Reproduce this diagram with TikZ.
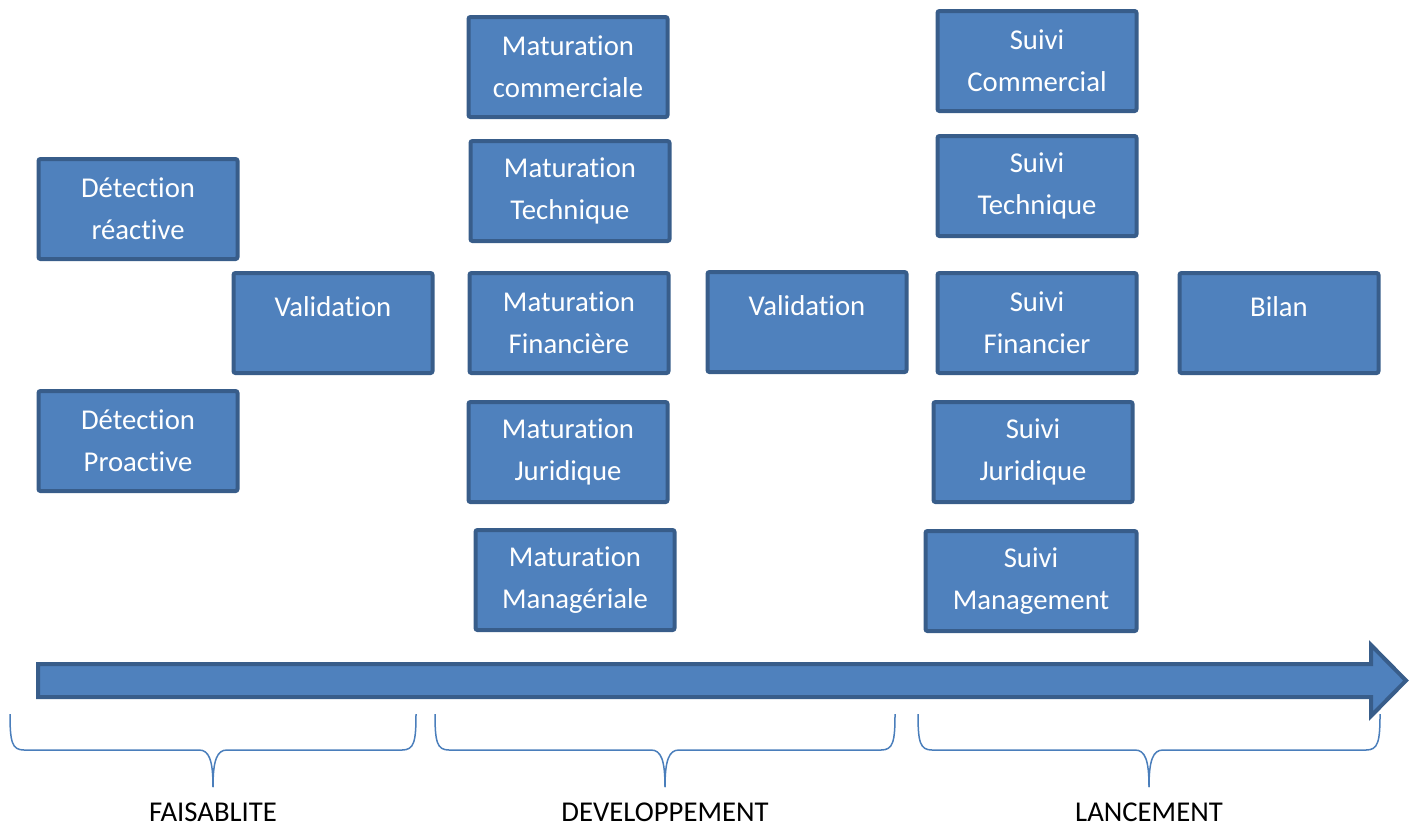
\documentclass[tikz,border=0pt]{standalone}
\usepackage{fontspec}
\setmainfont[Ligatures=NoCommon]{Carlito}
\usepackage{tikz}
\usetikzlibrary{positioning}
\definecolor{remplissage}{HTML}{4F81BD}
\definecolor{bordure}{HTML}{385D8A}
\definecolor{trait}{HTML}{4A7EBB}
\begin{document}
\begin{tikzpicture}[x=0.5pt,y=-0.5pt,
  etape/.style={draw=bordure,fill=remplissage,line width=2pt,rounded corners=1pt,
    minimum width=99.5pt,minimum height=50pt,align=center,text=white,
    font=\fontsize{14.35}{21}\selectfont},
  uneligne/.style={text depth=16pt},
  phase/.style={font=\fontsize{14.35}{21}\selectfont},
  accolade/.style={draw=trait,line width=0.75pt}]
\useasboundingbox (0,0) rectangle (1411,826);
%la fleche du temps
\draw[bordure,fill=remplissage,line width=2pt,line join=miter]
  (38,664) -- (1371,664) -- (1371,645) -- (1406,680.5) -- (1371,716) -- (1371,697) -- (38,697) -- cycle;
%faisabilite
\node[etape] (detR) at (138,209) {Détection\\réactive};
\node[etape,uneligne] (valA) at (333,323) {Validation};
\node[etape] (detP) at (138,441) {Détection\\Proactive};
%developpement
\node[etape] (matC) at (568,67) {Maturation\\commerciale};
\node[etape] (matT) at (570,191) {Maturation\\Technique};
\node[etape] (matF) at (569,323) {Maturation\\Financière};
\node[etape] (matJ) at (568,452) {Maturation\\Juridique};
\node[etape] (matM) at (575,580) {Maturation\\Managériale};
\node[etape,uneligne] (valB) at (807,322) {Validation};
%lancement
\node[etape] (suiC) at (1037,61) {Suivi\\Commercial};
\node[etape] (suiT) at (1037,186) {Suivi\\Technique};
\node[etape] (suiF) at (1037,323) {Suivi\\Financier};
\node[etape] (suiJ) at (1033,452) {Suivi\\Juridique};
\node[etape,minimum width=105.5pt] (suiM) at (1031,581) {Suivi\\Management};
\node[etape,uneligne] (bilan) at (1279,323) {Bilan};
%les accolades
\foreach \g/\d/\m/\nom/\texte in {10/416/213/faisa/FAISABLITE,435/895/665/devel/DEVELOPPEMENT,918/1380/1149/lance/LANCEMENT}{
  \draw[accolade] (\g,714) .. controls (\g,742) and (\g+2,750) .. (\g+14,750) -- (\m-14,750)
    .. controls (\m-4,750) and (\m,760) .. (\m,787);
  \draw[accolade] (\d,714) .. controls (\d,742) and (\d-2,750) .. (\d-14,750) -- (\m+14,750)
    .. controls (\m+4,750) and (\m,760) .. (\m,787);
  \node[phase] (\nom) at (\m,812) {\texte};
}
\end{tikzpicture}
\end{document}
